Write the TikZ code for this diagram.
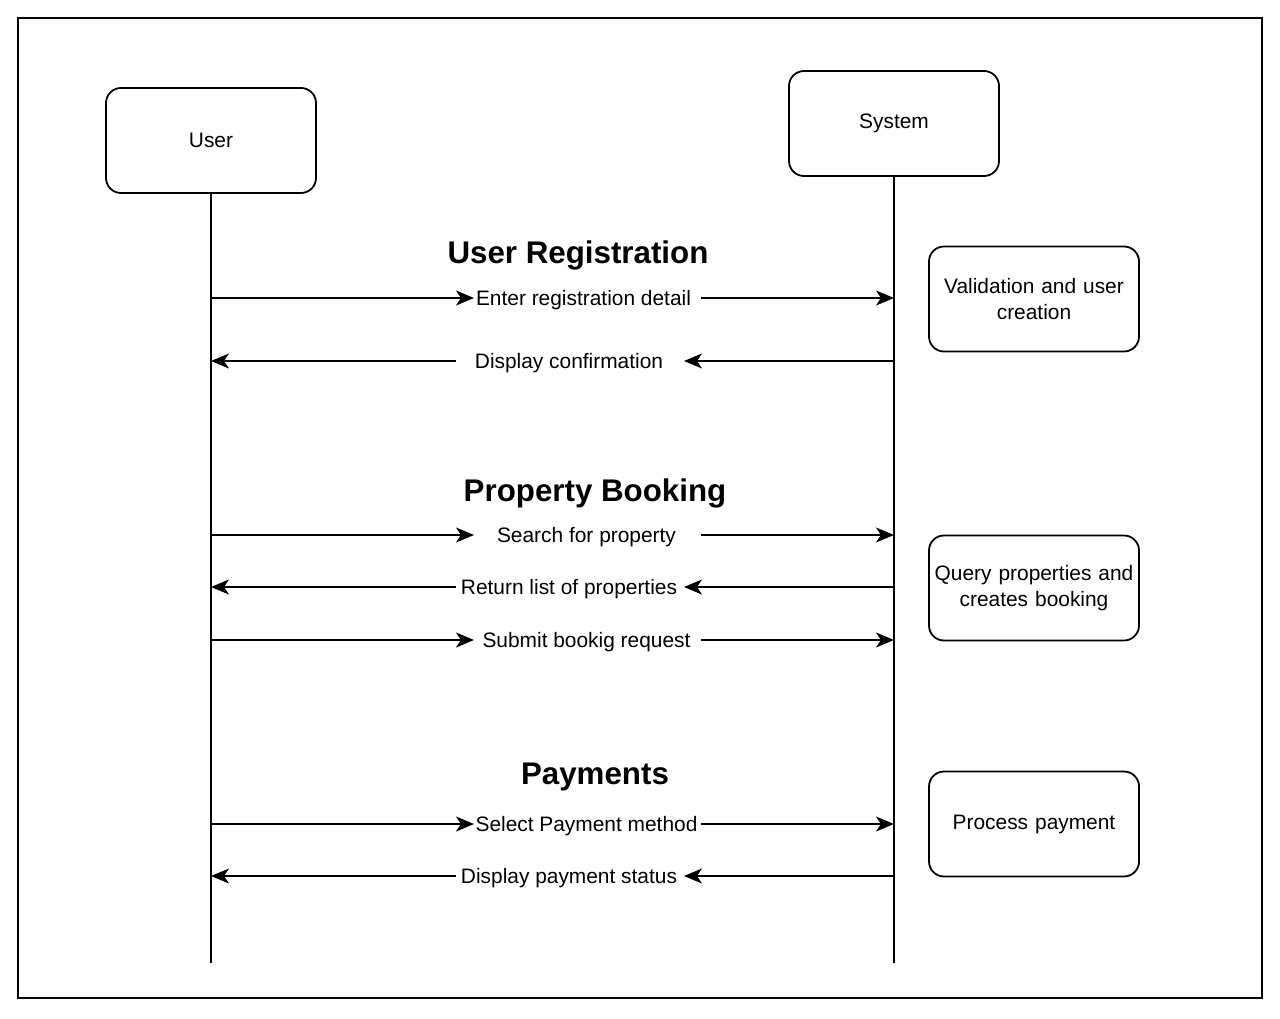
\documentclass[tikz,border=0pt]{standalone}
\usepackage{fontspec}
\setmainfont{Liberation Sans}
\usetikzlibrary{arrows.meta}
\begin{document}
\begin{tikzpicture}[x=1pt,y=-1pt,
  every node/.style={font=\fontsize{20.9pt}{26pt}\selectfont},
  actor/.style={draw, line width=1.8pt, rounded corners=15pt, minimum width=210pt, minimum height=105pt, inner sep=0pt},
  note/.style={actor, align=center, text width=205pt},
  life/.style={line width=1.8pt},
  msg/.style={line width=1.8pt, -{Stealth[length=18pt,width=15pt,inset=5pt]}},
  lbl/.style={inner sep=0pt, text height=15pt, text depth=0pt},
  head/.style={inner sep=0pt, text height=22pt, text depth=0pt, font=\fontsize{31.3pt}{36pt}\selectfont\bfseries}
]
\useasboundingbox (0,0) rectangle (1280,1019);
\draw[line width=1.8pt] (18,18) rectangle (1262,998);

% actors
\node[actor] (user) at (211,140.5) {User};
\node[actor] (sys) at (894,123.5) {System};
\coordinate (uend) at (211,963);
\coordinate (send) at (894,963);
\draw[life] (user.south) -- (uend);
\draw[life] (sys.south) -- (send);

% notes
\node[note] (n1) at (1034,299) {Validation and user\\creation};
\node[note] (n2) at (1034,588) {Query properties and\\creates booking};
\node[note] (n3) at (1034,824) {Process payment};

% headings
\node[head] (h1) at (578,253) {User Registration};
\node[head] (h2) at (595,490) {Property Booking};
\node[head] (h3) at (595,773) {Payments};

% rightward messages: y, label centre
\foreach \i/\y/\cx/\t in {1/298/583.5/Enter registration detail,
                          3/535/586.5/Search for property,
                          5/640/586.5/Submit bookig request,
                          6/824/586.5/Select Payment method}{
  \coordinate (u\i) at (211,\y);
  \coordinate (s\i) at (894,\y);
  \coordinate (a\i) at (474,\y);
  \coordinate (b\i) at (701,\y);
  \node[lbl] (m\i) at (\cx,\y) {\t};
  \draw[msg] (u\i) -- (a\i);
  \draw[msg] (b\i) -- (s\i);
}
% leftward messages
\foreach \i/\y/\cx/\t in {2/361/569/Display confirmation,
                          4/587/569/Return list of properties,
                          7/876/569/Display payment status}{
  \coordinate (u\i) at (211,\y);
  \coordinate (s\i) at (894,\y);
  \coordinate (a\i) at (684,\y);
  \coordinate (b\i) at (456,\y);
  \node[lbl] (m\i) at (\cx,\y) {\t};
  \draw[msg] (s\i) -- (a\i);
  \draw[msg] (b\i) -- (u\i);
}
\end{tikzpicture}
\end{document}
